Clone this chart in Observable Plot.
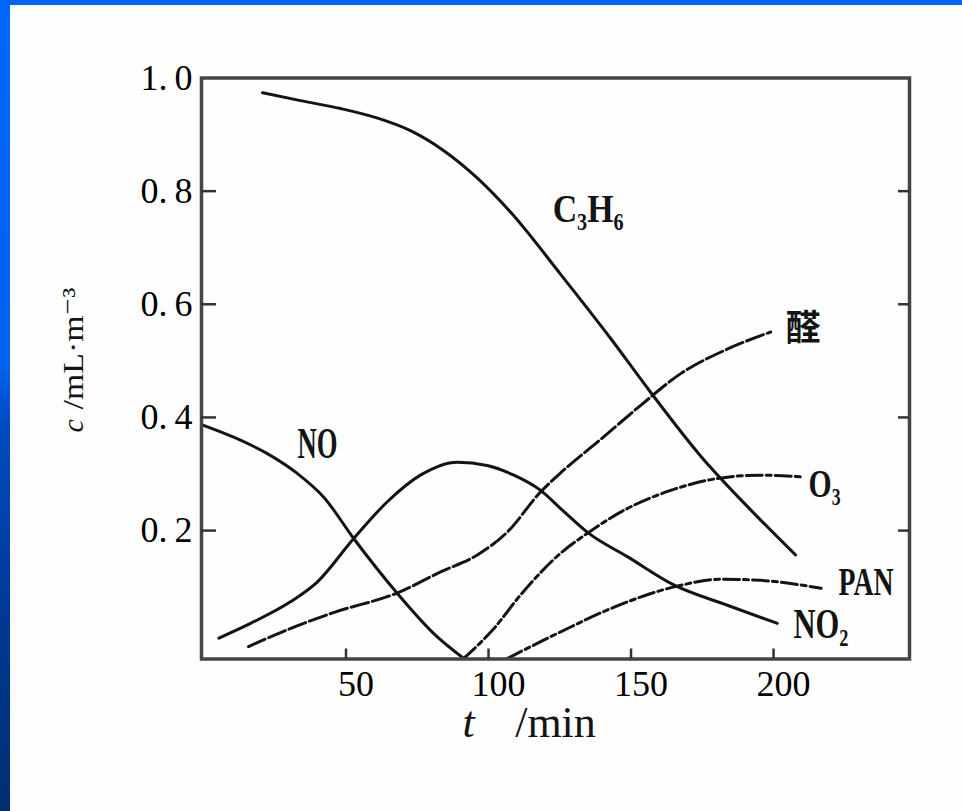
<!DOCTYPE html>
<html><head><meta charset="utf-8">
<script src="https://cdn.jsdelivr.net/npm/d3@7"></script>
<script src="https://cdn.jsdelivr.net/npm/@observablehq/plot@0.6"></script>
<style>
html,body{margin:0;padding:0;background:#fefefe;width:962px;height:811px;overflow:hidden;}
#wrap{position:relative;width:962px;height:811px;background:#fefefe;overflow:hidden;}
#chart{position:absolute;left:0;top:0;width:962px;height:811px;}
#topbar{position:absolute;left:0;top:0;width:962px;height:5px;background:#0066ff;}
#leftbar{position:absolute;left:0;top:0;width:10px;height:811px;background:linear-gradient(#0066ff 0%,#0062f2 45%,#004cc0 52%,#003a96 75%,#002f70 100%);}
</style></head><body>
<div id="wrap"><div id="chart"></div><div id="topbar"></div><div id="leftbar"></div></div>
<script>
// ---- data ----
const c3h6T = [20.7, 34.0, 48.1, 61.1, 72.6, 84.2, 96.1, 107.7, 125.3, 142.8, 156.8, 174.4, 191.9, 207.7];
const c3h6V = [0.974, 0.960, 0.946, 0.929, 0.907, 0.872, 0.823, 0.763, 0.653, 0.540, 0.445, 0.332, 0.237, 0.157];
const noT = [0, 10.6, 22.4, 32.9, 42.2, 52.7, 68.0, 80.8, 91.3];
const noV = [0.386, 0.365, 0.336, 0.301, 0.259, 0.186, 0.089, 0.018, -0.026];
const no2T = [5.4, 16.5, 30.5, 39.9, 52.7, 64.5, 76.1, 89.0, 99.5, 108.9, 118.3, 125.3, 135.2, 148.7, 165.0, 183.8, 201.3];
const no2V = [0.010, 0.036, 0.074, 0.109, 0.186, 0.251, 0.298, 0.321, 0.315, 0.298, 0.271, 0.239, 0.195, 0.154, 0.104, 0.068, 0.036];
const aldT = [15.8, 28.1, 45.6, 68.1, 83.2, 96.1, 106.7, 118.2, 125.3, 139.3, 153.3, 167.3, 183.9, 199.0];
const aldV = [-0.005, 0.022, 0.055, 0.090, 0.127, 0.157, 0.198, 0.268, 0.302, 0.361, 0.421, 0.477, 0.521, 0.551];
const o3T = [91.3, 101.9, 111.2, 125.3, 134.6, 148.7, 163.9, 180.2, 195.4, 209.5];
const o3V = [-0.026, 0.027, 0.086, 0.160, 0.195, 0.239, 0.271, 0.292, 0.298, 0.295];
const panT = [106.6, 125.3, 142.8, 165.6, 181.4, 195.4, 216.7];
const panV = [-0.026, 0.021, 0.062, 0.101, 0.114, 0.112, 0.098];

const seriesNames = ["C₃H₆", "NO", "NO₂", "醛", "O₃", "PAN"];
const labelT = [122.5, 33.0, 207.0, 204.2, 212.3, 222.8];
const labelV = [0.768, 0.354, 0.034, 0.555, 0.283, 0.110];

const yTickValues = [1.0, 0.8, 0.6, 0.4, 0.2];
const yTickLabels = ["1.0", "0.8", "0.6", "0.4", "0.2"];
const yInnerTicks = [0.8, 0.6, 0.4, 0.2];
const xTickValues = [50, 100, 150, 200];
const xTickLabels = ["50", "100", "150", "200"];
const xTitleVar = "t", xTitleUnit = "/min";
const yTitleVar = "c", yTitleUnit = "/mL·m⁻³";

// ---- build tables ----
const rows = (s, T, V) => T.map((t, i) => ({s, t, v: V[i]}));
const solidRows = [...rows("C3H6", c3h6T, c3h6V), ...rows("NO", noT, noV), ...rows("NO2", no2T, no2V)];
const aldRows = rows("醛", aldT, aldV);
const o3Rows = rows("O3", o3T, o3V);
const panRows = rows("PAN", panT, panV);
const labels = seriesNames.map((n, i) => ({n, t: labelT[i], v: labelV[i]}));
const yLab = new Map(yTickValues.map((d, i) => [d, yTickLabels[i]]));
const xLab = new Map(xTickValues.map((d, i) => [d, xTickLabels[i]]));

const W = 962, H = 811, mL = 201, mR = 53, mT = 77.5, mB = 152.5;
const pW = W - mL - mR, pH = H - mT - mB;
const ink = "#141414";
const serif = "'Liberation Serif', 'DejaVu Serif', serif";

const chart = Plot.plot({
  width: W, height: H,
  marginLeft: mL, marginRight: mR, marginTop: mT, marginBottom: mB,
  style: {background: "transparent", fontFamily: serif, color: ink, overflow: "visible"},
  x: {domain: [-0.7, 247.7]},
  y: {domain: [-0.027, 1.0]},
  marks: [
    Plot.line(solidRows, {x: "t", y: "v", z: "s", stroke: ink, strokeWidth: 3, curve: "monotone-x"}),
    Plot.line(aldRows, {x: "t", y: "v", stroke: ink, strokeWidth: 3, strokeDasharray: "18,4", curve: "monotone-x"}),
    Plot.line(o3Rows, {x: "t", y: "v", stroke: ink, strokeWidth: 3, strokeDasharray: "16,4,5,4", curve: "monotone-x"}),
    Plot.line(panRows, {x: "t", y: "v", stroke: ink, strokeWidth: 3, strokeDasharray: "16,4,5,4", curve: "monotone-x"}),
    Plot.frame({stroke: "#454545", strokeWidth: 3.5}),
    Plot.tickY(yInnerTicks, {y: d => d, stroke: "#333", strokeWidth: 2.5, insetRight: pW - 15}),
    Plot.tickY(yInnerTicks, {y: d => d, stroke: "#333", strokeWidth: 2.5, insetLeft: pW - 11}),
    Plot.tickX(xTickValues, {x: d => d, stroke: "#333", strokeWidth: 2.5, insetTop: pH - 10}),
    Plot.axisY(yTickValues, {anchor: "left", tickSize: 0, tickPadding: 9, label: null, fontSize: 36, fill: "#000", tickFormat: d => yLab.get(d)}),
    Plot.axisX(xTickValues, {anchor: "bottom", tickSize: 0, tickPadding: 11, dx: 10, label: null, fontSize: 36, fill: "#000", tickFormat: d => xLab.get(d)}),
    Plot.text(labels, {x: "t", y: "v", text: "n", textAnchor: "start", fontSize: 40, fill: ink}),
    Plot.text([yTitleVar], {frameAnchor: "left", text: d => d, rotate: -90, textAnchor: "start", dx: -128, dy: 64, fontSize: 30, fontStyle: "italic", fill: ink}),
    Plot.text([yTitleUnit], {frameAnchor: "left", text: d => d, rotate: -90, textAnchor: "start", dx: -128, dy: 41, fontSize: 30, fill: ink}),
    Plot.text([xTitleVar], {frameAnchor: "bottom", text: d => d, dx: -87, dy: 78, fontSize: 44, fontStyle: "italic", fill: ink}),
    Plot.text([xTitleUnit], {frameAnchor: "bottom", text: d => d, dx: 0, dy: 78, fontSize: 44, fill: ink})
  ]
});
document.getElementById("chart").appendChild(chart);

// ---- typographic touches: condensed label faces, wide decimal point ----
const NS = "http://www.w3.org/2000/svg";
const labelStyle = {
  "C₃H₆": {fs: 40, w: 71},
  "NO":   {fs: 44, w: 40},
  "NO₂":  {fs: 42, w: 55},
  "醛":   {fs: 36, w: 35, cjk: true},
  "O₃":   {fs: 41, w: 32},
  "PAN":  {fs: 41, w: 55}
};
function squeeze(el, w) {
  el.setAttribute("textLength", w);
  el.setAttribute("lengthAdjust", "spacingAndGlyphs");
}
chart.querySelectorAll("text").forEach(el => {
  const s = el.textContent;
  if (labelStyle[s]) {
    const st = labelStyle[s];
    el.setAttribute("font-size", st.fs);
    el.setAttribute("font-weight", "bold");
    if (st.cjk) el.setAttribute("font-family", "'Noto Sans CJK SC', sans-serif");
    squeeze(el, st.w);
  } else if (s === yTitleUnit) {
    squeeze(el, 122);
  } else if (yTickLabels.includes(s) && s.includes(".")) {
    const [p, q] = s.split(".");
    el.textContent = "";
    const a = document.createElementNS(NS, "tspan");
    a.textContent = p + ".";
    const b = document.createElementNS(NS, "tspan");
    b.setAttribute("dx", 7);
    b.textContent = q;
    el.appendChild(a); el.appendChild(b);
  }
});
</script>
</body></html>
